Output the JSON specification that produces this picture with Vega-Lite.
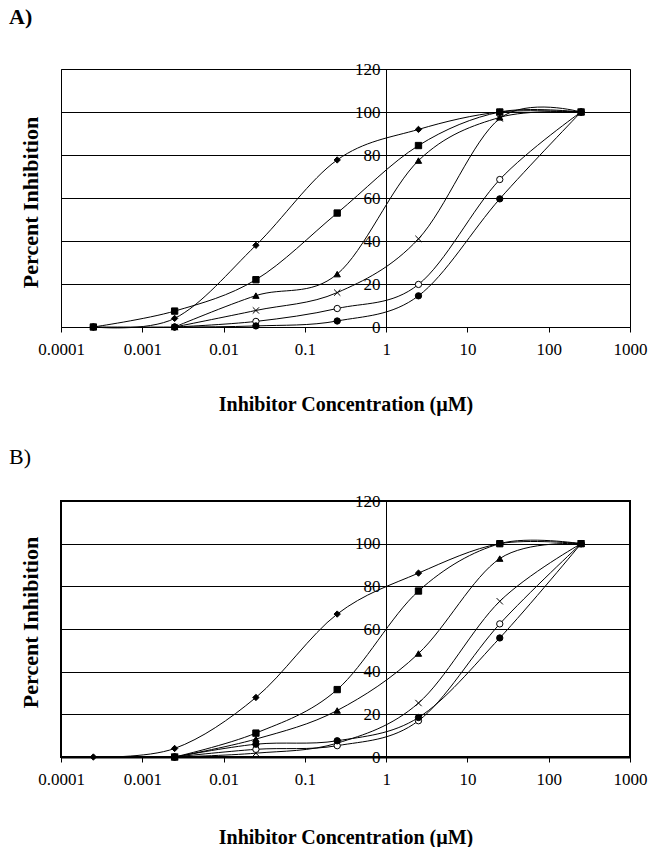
{
  "$schema": "https://vega.github.io/schema/vega-lite/v6.json",
  "padding": {"left": 8, "top": 5, "right": 5, "bottom": 5},
  "background": "white",
  "spacing": 30,
  "config": {
    "font": "Liberation Serif",
    "view": {"stroke": "black", "strokeWidth": 1},
    "axis": {
      "labelFont": "Liberation Serif",
      "titleFont": "Liberation Serif",
      "labelColor": "black",
      "titleColor": "black",
      "domainColor": "black",
      "tickColor": "black",
      "labelFlush": false,
      "labelOverlap": false
    }
  },
  "datasets": {
    "d": [
      {"p": "A", "s": "S4", "c": 0.0025, "v": 0},
      {"p": "A", "s": "S4", "c": 0.025, "v": 7.7},
      {"p": "A", "s": "S4", "c": 0.25, "v": 16},
      {"p": "A", "s": "S4", "c": 2.5, "v": 41},
      {"p": "A", "s": "S4", "c": 25, "v": 97},
      {"p": "A", "s": "S4", "c": 250, "v": 100},
      {"p": "A", "s": "S5", "c": 0.0025, "v": 0},
      {"p": "A", "s": "S5", "c": 0.025, "v": 2.6},
      {"p": "A", "s": "S5", "c": 0.25, "v": 8.6},
      {"p": "A", "s": "S5", "c": 2.5, "v": 19.8},
      {"p": "A", "s": "S5", "c": 25, "v": 68.6},
      {"p": "A", "s": "S5", "c": 250, "v": 100},
      {"p": "A", "s": "S6", "c": 0.0025, "v": 0},
      {"p": "A", "s": "S6", "c": 0.025, "v": 0.5},
      {"p": "A", "s": "S6", "c": 0.25, "v": 2.8},
      {"p": "A", "s": "S6", "c": 2.5, "v": 14.5},
      {"p": "A", "s": "S6", "c": 25, "v": 59.6},
      {"p": "A", "s": "S6", "c": 250, "v": 100},
      {"p": "A", "s": "S3", "c": 0.0025, "v": 0},
      {"p": "A", "s": "S3", "c": 0.025, "v": 14.6},
      {"p": "A", "s": "S3", "c": 0.25, "v": 24.6},
      {"p": "A", "s": "S3", "c": 2.5, "v": 77.4},
      {"p": "A", "s": "S3", "c": 25, "v": 97.5},
      {"p": "A", "s": "S3", "c": 250, "v": 100},
      {"p": "A", "s": "S2", "c": 0.00025, "v": 0},
      {"p": "A", "s": "S2", "c": 0.0025, "v": 7.4},
      {"p": "A", "s": "S2", "c": 0.025, "v": 22},
      {"p": "A", "s": "S2", "c": 0.25, "v": 53},
      {"p": "A", "s": "S2", "c": 2.5, "v": 84.4},
      {"p": "A", "s": "S2", "c": 25, "v": 100},
      {"p": "A", "s": "S2", "c": 250, "v": 100},
      {"p": "A", "s": "S1", "c": 0.00025, "v": 0},
      {"p": "A", "s": "S1", "c": 0.0025, "v": 4},
      {"p": "A", "s": "S1", "c": 0.025, "v": 38},
      {"p": "A", "s": "S1", "c": 0.25, "v": 77.7},
      {"p": "A", "s": "S1", "c": 2.5, "v": 91.9},
      {"p": "A", "s": "S1", "c": 25, "v": 100},
      {"p": "A", "s": "S1", "c": 250, "v": 100},
      {"p": "A", "s": "S6", "c": 0.00025, "v": 0},
      {"p": "B", "s": "S4", "c": 0.0025, "v": 0},
      {"p": "B", "s": "S4", "c": 0.025, "v": 1.8},
      {"p": "B", "s": "S4", "c": 0.25, "v": 6.5},
      {"p": "B", "s": "S4", "c": 2.5, "v": 25.3},
      {"p": "B", "s": "S4", "c": 25, "v": 73},
      {"p": "B", "s": "S4", "c": 250, "v": 100},
      {"p": "B", "s": "S5", "c": 0.0025, "v": 0},
      {"p": "B", "s": "S5", "c": 0.025, "v": 3.6},
      {"p": "B", "s": "S5", "c": 0.25, "v": 5.3},
      {"p": "B", "s": "S5", "c": 2.5, "v": 17},
      {"p": "B", "s": "S5", "c": 25, "v": 62.4},
      {"p": "B", "s": "S5", "c": 250, "v": 100},
      {"p": "B", "s": "S6", "c": 0.0025, "v": 0},
      {"p": "B", "s": "S6", "c": 0.025, "v": 6},
      {"p": "B", "s": "S6", "c": 0.25, "v": 7.6},
      {"p": "B", "s": "S6", "c": 2.5, "v": 18.5},
      {"p": "B", "s": "S6", "c": 25, "v": 55.8},
      {"p": "B", "s": "S6", "c": 250, "v": 100},
      {"p": "B", "s": "S3", "c": 0.0025, "v": 0},
      {"p": "B", "s": "S3", "c": 0.025, "v": 8.4},
      {"p": "B", "s": "S3", "c": 0.25, "v": 21.8},
      {"p": "B", "s": "S3", "c": 2.5, "v": 48.5},
      {"p": "B", "s": "S3", "c": 25, "v": 93},
      {"p": "B", "s": "S3", "c": 250, "v": 100},
      {"p": "B", "s": "S2", "c": 0.0025, "v": 0},
      {"p": "B", "s": "S2", "c": 0.025, "v": 11.2},
      {"p": "B", "s": "S2", "c": 0.25, "v": 31.6},
      {"p": "B", "s": "S2", "c": 2.5, "v": 77.8},
      {"p": "B", "s": "S2", "c": 25, "v": 100},
      {"p": "B", "s": "S2", "c": 250, "v": 100},
      {"p": "B", "s": "S1", "c": 0.00025, "v": 0},
      {"p": "B", "s": "S1", "c": 0.0025, "v": 4},
      {"p": "B", "s": "S1", "c": 0.025, "v": 27.9},
      {"p": "B", "s": "S1", "c": 0.25, "v": 67},
      {"p": "B", "s": "S1", "c": 2.5, "v": 86.2},
      {"p": "B", "s": "S1", "c": 25, "v": 100},
      {"p": "B", "s": "S1", "c": 250, "v": 100}
    ]
  },
  "vconcat": [
    {
      "title": {"text": "A)", "anchor": "start", "frame": "group", "dx": -52, "offset": 9, "baseline": "bottom", "fontSize": 22, "fontWeight": "bold", "font": "Liberation Serif", "color": "black"},
      "width": 569,
      "height": 258,
      "data": {"name": "d"},
      "transform": [{"filter": "datum.p == 'A'"}],
      "encoding": {
        "x": {
          "field": "c", "type": "quantitative",
          "scale": {"type": "log", "domain": [0.0001, 1000], "nice": false},
          "axis": {"values": [0.0001, 0.001, 0.01, 0.1, 1, 10, 100, 1000], "format": "~g", "labelFontSize": 17, "tickSize": 5, "labelPadding": 9, "grid": false, "title": "Inhibitor Concentration (µM)", "titleFontSize": 20, "titleFontWeight": "bold", "titleY": 77, "titleBaseline": "middle"}
        },
        "y": {
          "field": "v", "type": "quantitative",
          "scale": {"domain": [0, 120], "nice": false},
          "axis": {"values": [0, 20, 40, 60, 80, 100, 120], "offset": -325, "grid": true, "gridColor": "black", "gridOpacity": 1, "gridWidth": 1, "tickSize": 5, "labelFontSize": 17, "labelPadding": 1, "title": "Percent Inhibition", "titleX": -356, "titleY": 133, "titleAngle": -90, "titleBaseline": "middle", "titleAlign": "center", "titleFontSize": 22, "titleFontWeight": "bold"}
        }
      },
      "layer": [
        {"mark": {"type": "line", "interpolate": "cardinal", "color": "black", "strokeWidth": 1}, "encoding": {"detail": {"field": "s"}}},
        {"mark": {"type": "point", "filled": true, "size": 40, "stroke": "black", "strokeWidth": 1, "opacity": 1},
         "encoding": {
           "shape": {"field": "s", "scale": {"domain": ["S1", "S2", "S3", "S4", "S5", "S6"], "range": ["diamond", "square", "triangle-up", "M-1,-1L1,1M-1,1L1,-1", "circle", "circle"]}, "legend": null},
           "fill": {"field": "s", "scale": {"domain": ["S1", "S2", "S3", "S4", "S5", "S6"], "range": ["black", "black", "black", "black", "white", "black"]}, "legend": null}
         }}
      ]
    },
    {
      "title": {"text": "B)", "anchor": "start", "frame": "group", "dx": -52, "offset": 1, "baseline": "bottom", "fontSize": 22, "fontWeight": "normal", "font": "Liberation Serif", "color": "black"},
      "width": 569,
      "height": 256,
      "view": {"stroke": "black", "strokeWidth": 2},
      "data": {"name": "d"},
      "transform": [{"filter": "datum.p == 'B'"}],
      "encoding": {
        "x": {
          "field": "c", "type": "quantitative",
          "scale": {"type": "log", "domain": [0.0001, 1000], "nice": false},
          "axis": {"values": [0.0001, 0.001, 0.01, 0.1, 1, 10, 100, 1000], "format": "~g", "labelFontSize": 17, "tickSize": 5, "labelPadding": 9, "grid": false, "title": "Inhibitor Concentration (µM)", "titleFontSize": 20, "titleFontWeight": "bold", "titleY": 80, "titleBaseline": "middle", "domainWidth": 2}
        },
        "y": {
          "field": "v", "type": "quantitative",
          "scale": {"domain": [0, 120], "nice": false},
          "axis": {"values": [0, 20, 40, 60, 80, 100, 120], "offset": -325, "grid": true, "gridColor": "black", "gridOpacity": 1, "gridWidth": 1, "tickSize": 5, "labelFontSize": 17, "labelPadding": 1, "title": "Percent Inhibition", "titleX": -356, "titleY": 121, "titleAngle": -90, "titleBaseline": "middle", "titleAlign": "center", "titleFontSize": 22, "titleFontWeight": "bold"}
        }
      },
      "layer": [
        {"mark": {"type": "line", "interpolate": "cardinal", "color": "black", "strokeWidth": 1}, "encoding": {"detail": {"field": "s"}}},
        {"mark": {"type": "point", "filled": true, "size": 40, "stroke": "black", "strokeWidth": 1, "opacity": 1},
         "encoding": {
           "shape": {"field": "s", "scale": {"domain": ["S1", "S2", "S3", "S4", "S5", "S6"], "range": ["diamond", "square", "triangle-up", "M-1,-1L1,1M-1,1L1,-1", "circle", "circle"]}, "legend": null},
           "fill": {"field": "s", "scale": {"domain": ["S1", "S2", "S3", "S4", "S5", "S6"], "range": ["black", "black", "black", "black", "white", "black"]}, "legend": null}
         }}
      ]
    }
  ]
}
